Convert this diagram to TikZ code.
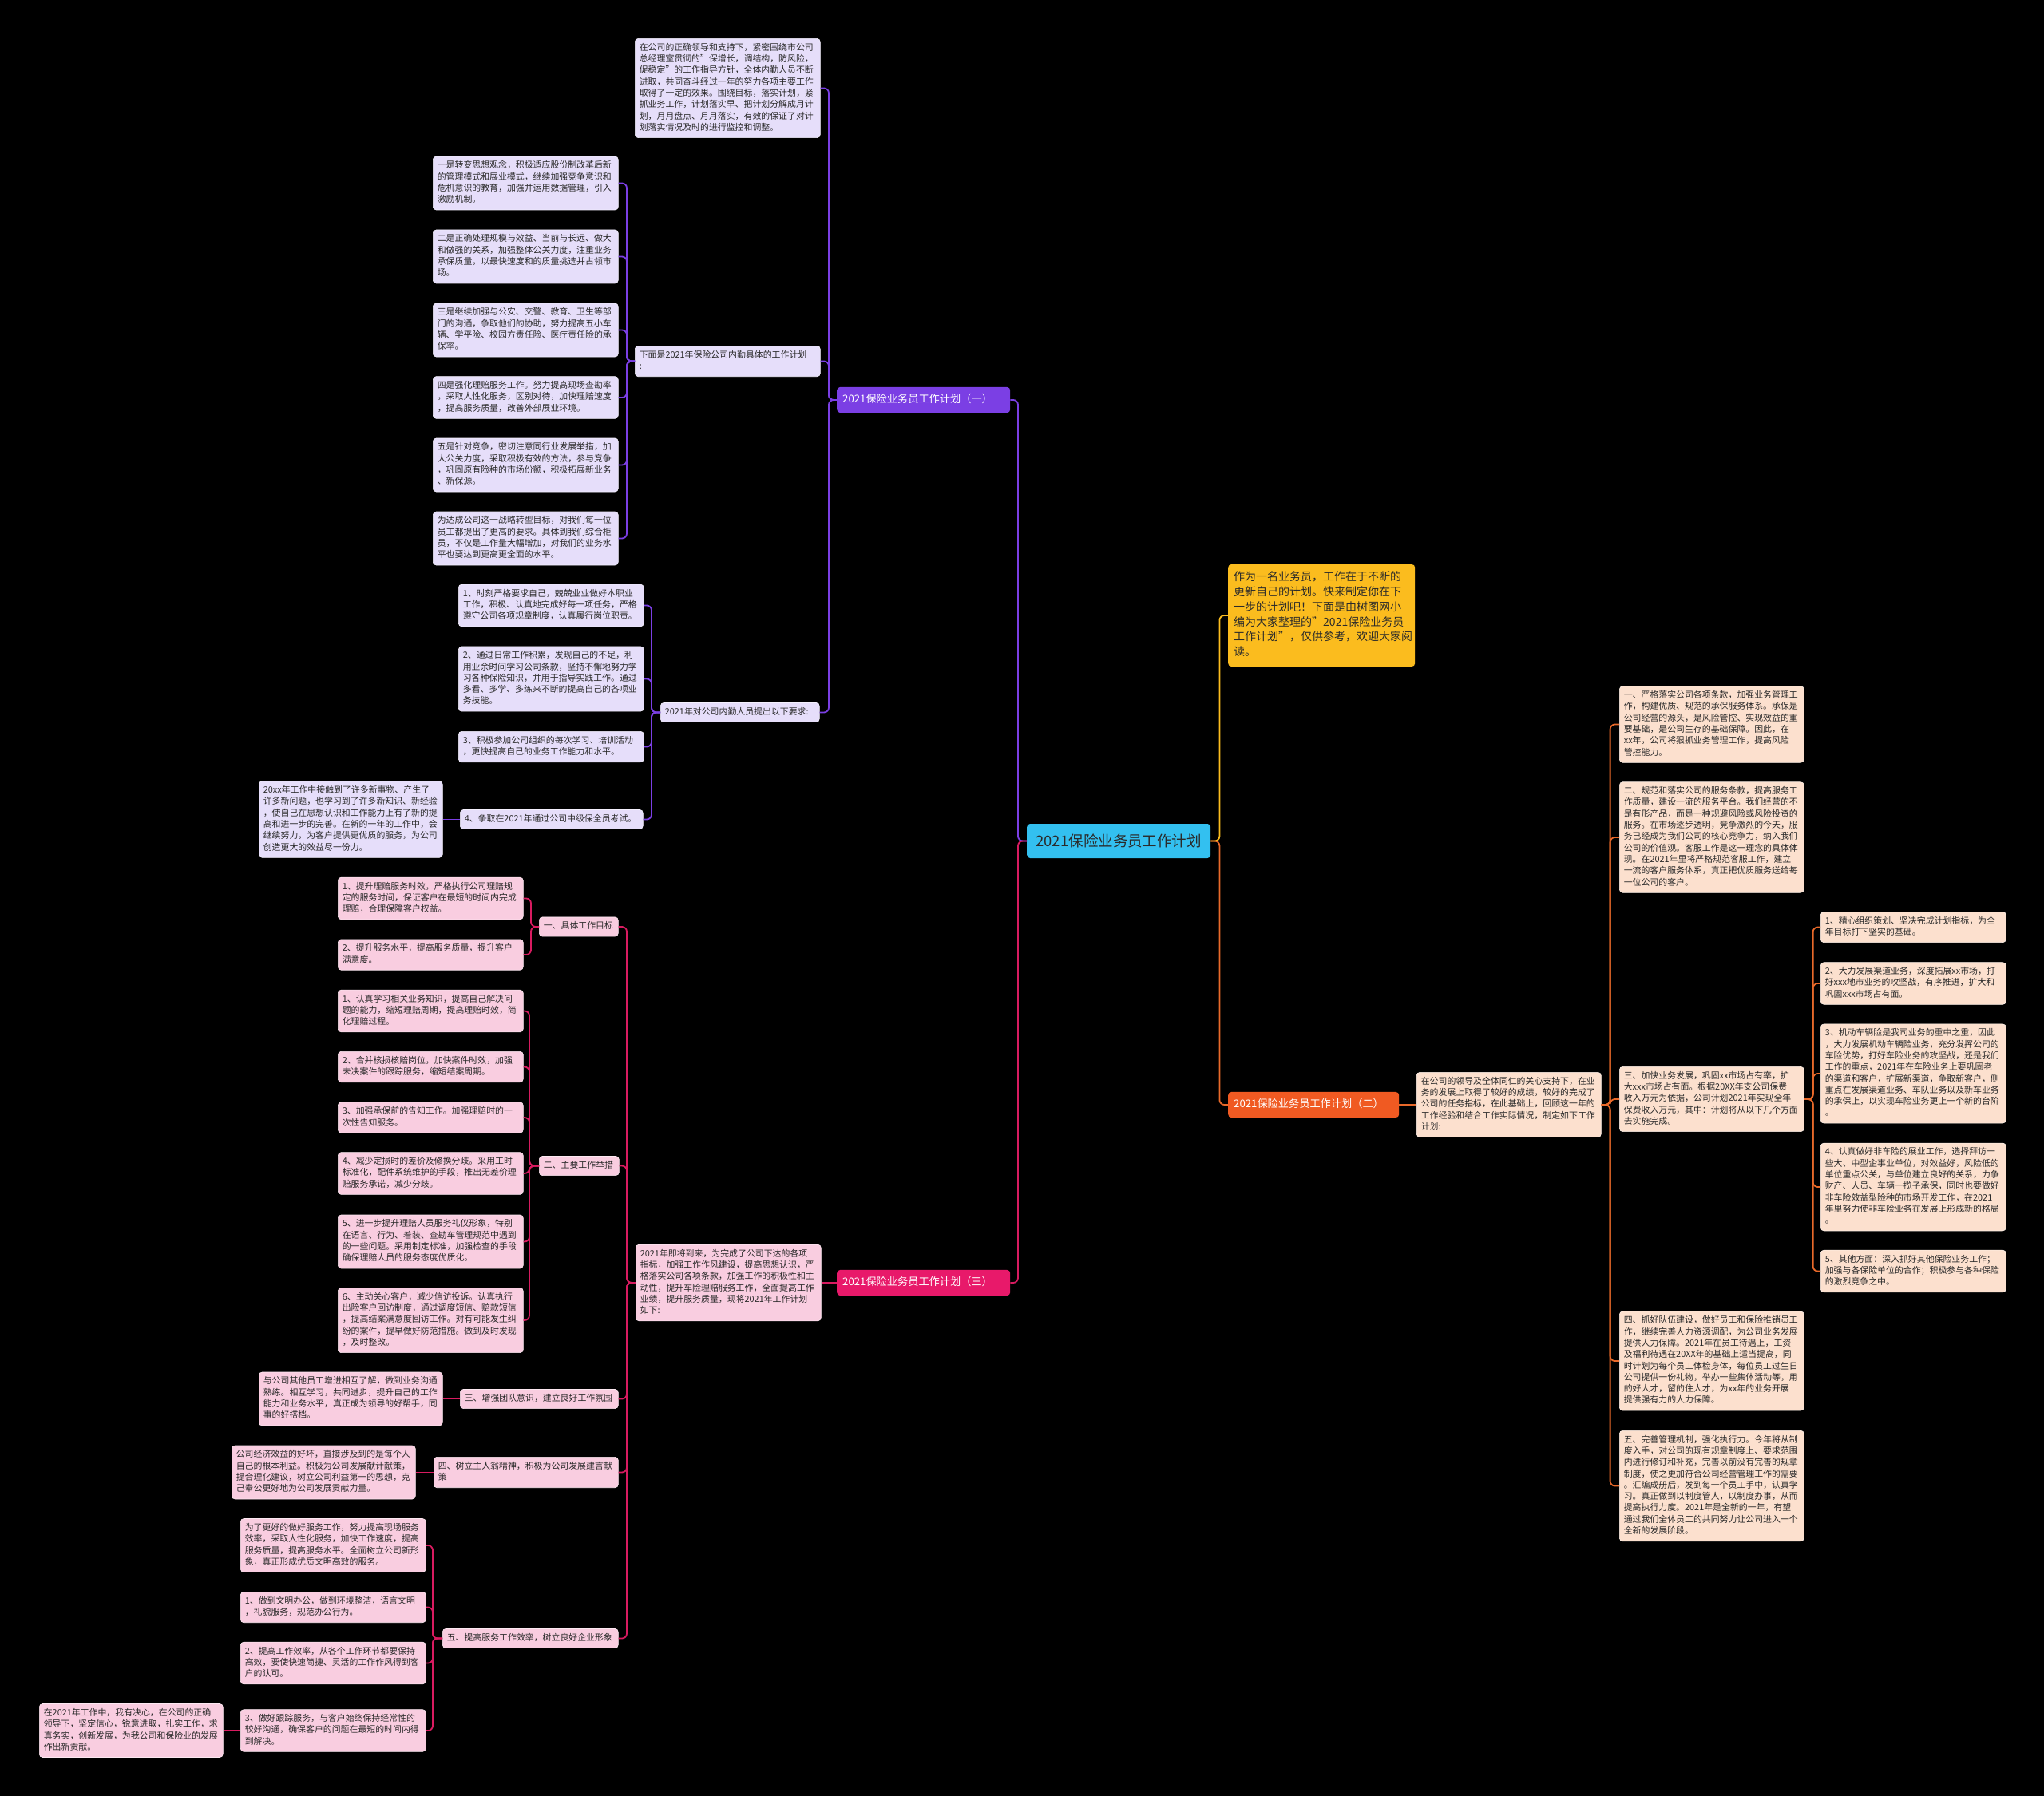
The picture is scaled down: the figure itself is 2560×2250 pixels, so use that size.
\documentclass[tikz,border=0pt]{standalone}
\usepackage{fontspec}
\setmainfont{Noto Sans CJK SC}
\usetikzlibrary{positioning}

\definecolor{ink}{HTML}{2A2A2A}
\definecolor{purp}{HTML}{7B3FE4}
\definecolor{lav}{HTML}{E6DEFA}
\definecolor{pnk}{HTML}{E8196A}
\definecolor{pnkline}{HTML}{D81B60}
\definecolor{rose}{HTML}{F9CDE0}
\definecolor{org}{HTML}{F05A22}
\definecolor{orgline}{HTML}{E8692A}
\definecolor{peach}{HTML}{FCE0CE}
\definecolor{amber}{HTML}{FBBC1E}
\definecolor{sky}{HTML}{33C0F0}

\begin{document}
\begin{tikzpicture}[x=1pt,y=-1pt,
  txt/.style={rounded corners=4pt,anchor=west,align=left,inner xsep=5.5pt,inner ysep=4.9pt,
    text width=#1,text=ink,font=\fontsize{10.9}{14.3}\selectfont,
    execute at begin node=\strut,execute at end node=\strut},
  txt/.default=221pt,
  lavbox/.style={txt=#1,fill=lav,draw=white!55!lav,line width=0.6pt},
  lavbox/.default=221pt,
  rosebox/.style={txt=#1,fill=rose,draw=white!55!rose,line width=0.6pt},
  rosebox/.default=221pt,
  peachbox/.style={txt=#1,fill=peach,draw=white!55!peach,line width=0.6pt},
  peachbox/.default=221pt,
  branch/.style={rounded corners=4pt,anchor=west,align=left,inner xsep=7pt,inner ysep=8pt,
    text width=#1,text=white,font=\fontsize{13.2}{16}\selectfont,execute at begin node=\strut},
  pline/.style={draw=purp,line width=1.8pt,rounded corners=6pt},
  kline/.style={draw=pnkline,line width=1.8pt,rounded corners=6pt},
  oline/.style={draw=orgline,line width=1.8pt,rounded corners=6pt},
  yline/.style={draw=amber,line width=1.8pt,rounded corners=6pt}]
\fill[black] (0,0) rectangle (2560,2250);
\useasboundingbox (0,0) rectangle (2560,2250);
% root and intro
\node[rounded corners=4pt,anchor=west,fill=sky,text=ink,minimum width=230pt,minimum height=43pt,
  font=\fontsize{18.5}{22}\selectfont] (root) at (1286,1053.5) {2021保险业务员工作计划};
\node[txt=220pt,fill=amber,inner xsep=7pt,inner ysep=7.6pt,font=\fontsize{14}{18.8}\selectfont] (yel) at (1538,771)
  {作为一名业务员，工作在于不断的\\更新自己的计划。快来制定你在下\\一步的计划吧！下面是由树图网小\\编为大家整理的"2021保险业务员\\工作计划"，仅供参考，欢迎大家阅\\读。};
% plan one
\node[branch=203pt,fill=purp] (b1) at (1048,501) {2021保险业务员工作计划（一）};
\node[lavbox] (b1top) at (795,110.5)
  {在公司的正确领导和支持下，紧密围绕市公司\\总经理室贯彻的"保增长，调结构，防风险，\\促稳定"的工作指导方针，全体内勤人员不断\\进取，共同奋斗经过一年的努力各项主要工作\\取得了一定的效果。围绕目标，落实计划，紧\\抓业务工作，计划落实早、把计划分解成月计\\划，月月盘点、月月落实，有效的保证了对计\\划落实情况及时的进行监控和调整。};
\node[lavbox] (b1lst) at (795,452.5) {下面是2021年保险公司内勤具体的工作计划\\:};
\node[lavbox] (b1s1) at (542,229.5)
  {一是转变思想观念，积极适应股份制改革后新\\的管理模式和展业模式，继续加强竞争意识和\\危机意识的教育，加强并运用数据管理，引入\\激励机制。};
\node[lavbox] (b1s2) at (542,321.5)
  {二是正确处理规模与效益、当前与长远、做大\\和做强的关系，加强整体公关力度，注重业务\\承保质量，以最快速度和的质量挑选并占领市\\场。};
\node[lavbox] (b1s3) at (542,413.5)
  {三是继续加强与公安、交警、教育、卫生等部\\门的沟通，争取他们的协助，努力提高五小车\\辆、学平险、校园方责任险、医疗责任险的承\\保率。};
\node[lavbox] (b1s4) at (542,498)
  {四是强化理赔服务工作。努力提高现场查勘率\\，采取人性化服务，区别对待，加快理赔速度\\，提高服务质量，改善外部展业环境。};
\node[lavbox] (b1s5) at (542,582.5)
  {五是针对竞争，密切注意同行业发展举措，加\\大公关力度，采取积极有效的方法，参与竞争\\，巩固原有险种的市场份额，积极拓展新业务\\、新保源。};
\node[lavbox] (b1s6) at (542,674.5)
  {为达成公司这一战略转型目标，对我们每一位\\员工都提出了更高的要求。具体到我们综合柜\\员，不仅是工作量大幅增加，对我们的业务水\\平也要达到更高更全面的水平。};
\node[lavbox=188pt] (b1req) at (827,892.5) {2021年对公司内勤人员提出以下要求:};
\node[lavbox] (b1r1) at (574,758.5)
  {1、时刻严格要求自己，兢兢业业做好本职业\\工作，积极、认真地完成好每一项任务，严格\\遵守公司各项规章制度，认真履行岗位职责。};
\node[lavbox] (b1r2) at (574,850.5)
  {2、通过日常工作积累，发现自己的不足，利\\用业余时间学习公司条款，坚持不懈地努力学\\习各种保险知识，并用于指导实践工作。通过\\多看、多学、多练来不断的提高自己的各项业\\务技能。};
\node[lavbox] (b1r3) at (574,935.5)
  {3、积极参加公司组织的每次学习、培训活动\\，更快提高自己的业务工作能力和水平。};
\node[lavbox=218pt] (b1r4) at (576,1026.5) {4、争取在2021年通过公司中级保全员考试。};
\node[lavbox=219pt] (b1r4a) at (324,1026.5)
  {20xx年工作中接触到了许多新事物、产生了\\许多新问题，也学习到了许多新知识、新经验\\，使自己在思想认识和工作能力上有了新的提\\高和进一步的完善。在新的一年的工作中，会\\继续努力，为客户提供更优质的服务，为公司\\创造更大的效益尽一份力。};
% plan two
\node[branch=200pt,fill=org] (b2) at (1538,1384) {2021保险业务员工作计划（二）};
\node[peachbox=220pt] (b2in) at (1774,1384)
  {在公司的领导及全体同仁的关心支持下，在业\\务的发展上取得了较好的成绩，较好的完成了\\公司的任务指标，在此基础上，回顾这一年的\\工作经验和结合工作实际情况，制定如下工作\\计划:};
\node[peachbox=220pt] (b2a) at (2028,907.5)
  {一、严格落实公司各项条款，加强业务管理工\\作，构建优质、规范的承保服务体系。承保是\\公司经营的源头，是风险管控、实现效益的重\\要基础，是公司生存的基础保障。因此，在\\xx年，公司将狠抓业务管理工作，提高风险\\管控能力。};
\node[peachbox=220pt] (b2b) at (2028,1049)
  {二、规范和落实公司的服务条款，提高服务工\\作质量，建设一流的服务平台。我们经营的不\\是有形产品，而是一种规避风险或风险投资的\\服务。在市场逐步透明，竞争激烈的今天，服\\务已经成为我们公司的核心竞争力，纳入我们\\公司的价值观。客服工作是这一理念的具体体\\现。在2021年里将严格规范客服工作，建立\\一流的客户服务体系，真正把优质服务送给每\\一位公司的客户。};
\node[peachbox=220pt] (b2c) at (2028,1377)
  {三、加快业务发展，巩固xx市场占有率，扩\\大xxx市场占有面。根据20XX年支公司保费\\收入万元为依据，公司计划2021年实现全年\\保费收入万元，其中：计划将从以下几个方面\\去实施完成。};
\node[peachbox=220pt] (b2d) at (2028,1705)
  {四、抓好队伍建设，做好员工和保险推销员工\\作，继续完善人力资源调配，为公司业务发展\\提供人力保障。2021年在员工待遇上，工资\\及福利待遇在20XX年的基础上适当提高，同\\时计划为每个员工体检身体，每位员工过生日\\公司提供一份礼物，举办一些集体活动等，用\\的好人才，留的住人才，为xx年的业务开展\\提供强有力的人力保障。};
\node[peachbox=220pt] (b2e) at (2028,1861.5)
  {五、完善管理机制，强化执行力。今年将从制\\度入手，对公司的现有规章制度上、要求范围\\内进行修订和补充，完善以前没有完善的规章\\制度，使之更加符合公司经营管理工作的需要\\。汇编成册后，发到每一个员工手中，认真学\\习。真正做到以制度管人，以制度办事，从而\\提高执行力度。2021年是全新的一年，有望\\通过我们全体员工的共同努力让公司进入一个\\全新的发展阶段。};
\node[peachbox] (b2c1) at (2280,1161.5)
  {1、精心组织策划、坚决完成计划指标，为全\\年目标打下坚实的基础。};
\node[peachbox] (b2c2) at (2280,1232)
  {2、大力发展渠道业务，深度拓展xx市场，打\\好xxx地市业务的攻坚战，有序推进，扩大和\\巩固xxx市场占有面。};
\node[peachbox] (b2c3) at (2280,1345)
  {3、机动车辆险是我司业务的重中之重，因此\\，大力发展机动车辆险业务，充分发挥公司的\\车险优势，打好车险业务的攻坚战，还是我们\\工作的重点，2021年在车险业务上要巩固老\\的渠道和客户，扩展新渠道，争取新客户，侧\\重点在发展渠道业务、车队业务以及新车业务\\的承保上，以实现车险业务更上一个新的台阶\\。};
\node[peachbox] (b2c4) at (2280,1487)
  {4、认真做好非车险的展业工作，选择拜访一\\些大、中型企事业单位，对效益好，风险低的\\单位重点公关，与单位建立良好的关系，力争\\财产、人员、车辆一揽子承保，同时也要做好\\非车险效益型险种的市场开发工作，在2021\\年里努力使非车险业务在发展上形成新的格局\\。};
\node[peachbox] (b2c5) at (2280,1592.5)
  {5、其他方面：深入抓好其他保险业务工作；\\加强与各保险单位的合作；积极参与各种保险\\的激烈竞争之中。};
% plan three
\node[branch=203pt,fill=pnk] (b3) at (1048,1607) {2021保险业务员工作计划（三）};
\node[rosebox] (b3in) at (796,1607)
  {2021年即将到来，为完成了公司下达的各项\\指标，加强工作作风建设，提高思想认识，严\\格落实公司各项条款，加强工作的积极性和主\\动性，提升车险理赔服务工作，全面提高工作\\业绩，提升服务质量，现将2021年工作计划\\如下:};
\node[rosebox=88pt] (b3g1) at (675,1161) {一、具体工作目标};
\node[rosebox=89pt] (b3g2) at (675,1460.5) {二、主要工作举措};
\node[rosebox=187pt] (b3g3) at (576,1752.5) {三、增强团队意识，建立良好工作氛围};
\node[rosebox=220pt] (b3g4) at (543,1844.5) {四、树立主人翁精神，积极为公司发展建言献\\策};
\node[rosebox=209pt] (b3g5) at (554,2052.5) {五、提高服务工作效率，树立良好企业形象};
\node[rosebox] (b3a1) at (423,1125.5)
  {1、提升理赔服务时效，严格执行公司理赔规\\定的服务时间，保证客户在最短的时间内完成\\理赔，合理保障客户权益。};
\node[rosebox] (b3a2) at (423,1196)
  {2、提升服务水平，提高服务质量，提升客户\\满意度。};
\node[rosebox] (b3b1) at (423,1266.5)
  {1、认真学习相关业务知识，提高自己解决问\\题的能力，缩短理赔周期，提高理赔时效，简\\化理赔过程。};
\node[rosebox] (b3b2) at (423,1336.5)
  {2、合并核损核赔岗位，加快案件时效，加强\\未决案件的跟踪服务，缩短结案周期。};
\node[rosebox] (b3b3) at (423,1400)
  {3、加强承保前的告知工作。加强理赔时的一\\次性告知服务。};
\node[rosebox] (b3b4) at (423,1470)
  {4、减少定损时的差价及修换分歧。采用工时\\标准化，配件系统维护的手段，推出无差价理\\赔服务承诺，减少分歧。};
\node[rosebox] (b3b5) at (423,1555.5)
  {5、进一步提升理赔人员服务礼仪形象，特别\\在语言、行为、着装、查勘车管理规范中遇到\\的一些问题。采用制定标准，加强检查的手段\\确保理赔人员的服务态度优质化。};
\node[rosebox] (b3b6) at (423,1654)
  {6、主动关心客户，减少信访投诉。认真执行\\出险客户回访制度，通过调度短信、赔款短信\\，提高结案满意度回访工作。对有可能发生纠\\纷的案件，提早做好防范措施。做到及时发现\\，及时整改。};
\node[rosebox=219pt] (b3c1) at (324,1752.5)
  {与公司其他员工增进相互了解，做到业务沟通\\熟练。相互学习，共同进步，提升自己的工作\\能力和业务水平，真正成为领导的好帮手，同\\事的好搭档。};
\node[rosebox=219pt] (b3d1) at (290,1844.5)
  {公司经济效益的好坏，直接涉及到的是每个人\\自己的根本利益。积极为公司发展献计献策，\\提合理化建议，树立公司利益第一的思想，克\\己奉公更好地为公司发展贡献力量。};
\node[rosebox=221pt] (b3e0) at (301,1936)
  {为了更好的做好服务工作，努力提高现场服务\\效率，采取人性化服务，加快工作速度，提高\\服务质量，提高服务水平。全面树立公司新形\\象，真正形成优质文明高效的服务。};
\node[rosebox=221pt] (b3e1) at (301,2013.5)
  {1、做到文明办公，做到环境整洁，语言文明\\，礼貌服务，规范办公行为。};
\node[rosebox=221pt] (b3e2) at (301,2083.5)
  {2、提高工作效率，从各个工作环节都要保持\\高效，要使快速简捷、灵活的工作作风得到客\\户的认可。};
\node[rosebox=221pt] (b3e3) at (301,2168)
  {3、做好跟踪服务，与客户始终保持经常性的\\较好沟通，确保客户的问题在最短的时间内得\\到解决。};
\node[rosebox=219pt] (b3e3a) at (49,2168)
  {在2021年工作中，我有决心，在公司的正确\\领导下，坚定信心，锐意进取，扎实工作，求\\真务实，创新发展，为我公司和保险业的发展\\作出新贡献。};
% connectors
\draw[yline] (root.east) -- ++(11,0) |- (yel.west);
\draw[oline] (root.east) -- ++(11,0) |- (b2.west);
\draw[pline] (root.west) -- ++(-11,0) |- (b1.east);
\draw[kline] (root.west) -- ++(-11,0) |- (b3.east);
\foreach \c in {b1top,b1lst,b1req} \draw[pline] (b1.west) -- ++(-10,0) |- (\c.east);
\foreach \c in {b1s1,b1s2,b1s3,b1s4,b1s5,b1s6} \draw[pline] (b1lst.west) -- ++(-10,0) |- (\c.east);
\foreach \c in {b1r1,b1r2,b1r3,b1r4} \draw[pline] (b1req.west) -- ++(-11,0) |- (\c.east);
\draw[pline] (b1r4.west) -- (b1r4a.east);
\draw[oline] (b2.east) -- (b2in.west);
\foreach \c in {b2a,b2b,b2c,b2d,b2e} \draw[oline] (b2in.east) -- ++(11,0) |- (\c.west);
\foreach \c in {b2c1,b2c2,b2c3,b2c4,b2c5} \draw[oline] (b2c.east) -- ++(11,0) |- (\c.west);
\draw[kline] (b3.west) -- (b3in.east);
\foreach \c in {b3g1,b3g2,b3g3,b3g4,b3g5} \draw[kline] (b3in.west) -- ++(-11,0) |- (\c.east);
\foreach \c in {b3a1,b3a2} \draw[kline] (b3g1.west) -- ++(-10,0) |- (\c.east);
\foreach \c in {b3b1,b3b2,b3b3,b3b4,b3b5,b3b6} \draw[kline] (b3g2.west) -- ++(-12,0) |- (\c.east);
\draw[kline] (b3g3.west) -- (b3c1.east);
\draw[kline] (b3g4.west) -- (b3d1.east);
\foreach \c in {b3e0,b3e1,b3e2,b3e3} \draw[kline] (b3g5.west) -- ++(-12,0) |- (\c.east);
\draw[kline] (b3e3.west) -- (b3e3a.east);
\end{tikzpicture}
\end{document}
